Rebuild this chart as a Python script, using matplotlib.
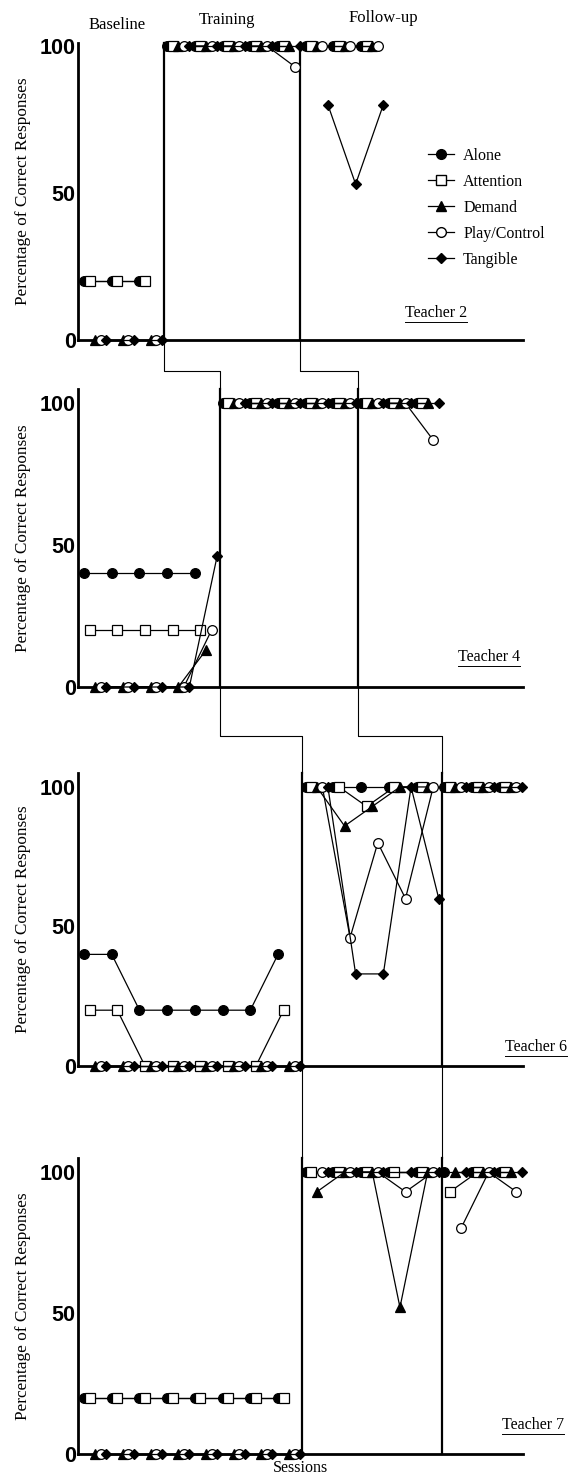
import matplotlib
matplotlib.use("Agg")
import matplotlib.pyplot as plt
from matplotlib.lines import Line2D
from matplotlib.transforms import blended_transform_factory

W, H = 574, 1477

conditions = ["Alone", "Attention", "Demand", "Play/Control", "Tangible"]
markers = ["o", "s", "^", "o", "D"]
face = ["black", "white", "black", "white", "black"]
msizes = [7, 6.5, 7, 7, 5.5]

teachers = ["Teacher 2", "Teacher 4", "Teacher 6", "Teacher 7"]
phase_names = ["Baseline", "Training", "Follow-up"]

# first session of each phase; one session per condition in each round
t2_starts = [1, 16, 41]
t4_starts = [1, 26, 51]
t6_starts = [1, 41, 66]
t7_starts = [1, 41, 66]

# phase change lines (sessions)
t2_lines = [15.4, 40.0]
t4_lines = [25.5, 50.4]
t6_lines = [40.3, 65.6]
t7_lines = [40.4, 65.6]

# rows: Alone, Attention, Demand, Play/Control, Tangible ; columns: rounds
t2_baseline = [[20, 20, 20], [20, 20, 20], [0, 0, 0], [0, 0, 0], [0, 0, 0]]
t2_training = [[100, 100, 100, 100, 100], [100, 100, 100, 100, 100],
               [100, 100, 100, 100, 100], [100, 100, 100, 100, 93],
               [100, 100, 100, 100, 100]]
t2_followup = [[100, 100, 100], [100, 100, 100], [100, 100, 100],
               [100, 100, 100], [80, 53, 80]]

t4_baseline = [[40, 40, 40, 40, 40], [20, 20, 20, 20, 20], [0, 0, 0, 0, 13],
               [0, 0, 0, 0, 20], [0, 0, 0, 0, 46]]
t4_training = [[100, 100, 100, 100, 100], [100, 100, 100, 100, 100],
               [100, 100, 100, 100, 100], [100, 100, 100, 100, 100],
               [100, 100, 100, 100, 100]]
t4_followup = [[100, 100, 100], [100, 100, 100], [100, 100, 100],
               [100, 100, 87], [100, 100, 100]]

t6_baseline = [[40, 40, 20, 20, 20, 20, 20, 40], [20, 20, 0, 0, 0, 0, 0, 20],
               [0, 0, 0, 0, 0, 0, 0, 0], [0, 0, 0, 0, 0, 0, 0, 0],
               [0, 0, 0, 0, 0, 0, 0, 0]]
t6_training = [[100, 100, 100, 100, 100], [100, 100, 93, 100, 100],
               [100, 86, 93, 100, 100], [100, 46, 80, 60, 100],
               [100, 33, 33, 100, 60]]
t6_followup = [[100, 100, 100], [100, 100, 100], [100, 100, 100],
               [100, 100, 100], [100, 100, 100]]

t7_baseline = [[20, 20, 20, 20, 20, 20, 20, 20], [20, 20, 20, 20, 20, 20, 20, 20],
               [0, 0, 0, 0, 0, 0, 0, 0], [0, 0, 0, 0, 0, 0, 0, 0],
               [0, 0, 0, 0, 0, 0, 0, 0]]
t7_training = [[100, 100, 100, 100, 100], [100, 100, 100, 100, 100],
               [93, 100, 100, 52, 100], [100, 100, 100, 93, 100],
               [100, 100, 100, 100, 100]]
t7_followup = [[100, 100, 100], [93, 100, 100], [100, 100, 100],
               [80, 100, 93], [100, 100, 100]]

panels = [
    (t2_starts, t2_lines, [t2_baseline, t2_training, t2_followup]),
    (t4_starts, t4_lines, [t4_baseline, t4_training, t4_followup]),
    (t6_starts, t6_lines, [t6_baseline, t6_training, t6_followup]),
    (t7_starts, t7_lines, [t7_baseline, t7_training, t7_followup]),
]

# layout in pixels (top, bottom) and y limit
panel_px = [(43, 340), (389, 687), (773, 1066), (1158, 1454)]
ytops = [101, 105, 105, 105]
left_px, right_px = 78.5, 523
xmax = 80.2
gap_px = [371, 736, 1110]
label_px = [(405, 313), (458, 657), (505, 1047), (502, 1425)]

serif = "Liberation Serif"
sans = "Liberation Sans"


def fx(px):
    return px / W


def fy(px):
    return 1 - px / H


fig = plt.figure(figsize=(W / 100, H / 100), dpi=100)
axes = []
for i, (starts, plines, phases) in enumerate(panels):
    top, bot = panel_px[i]
    ax = fig.add_axes([fx(left_px), fy(bot), fx(right_px - left_px), (bot - top) / H])
    axes.append(ax)
    ax.set_xlim(0, xmax)
    ax.set_ylim(0, ytops[i])
    for s in ["top", "right"]:
        ax.spines[s].set_visible(False)
    for s in ["left", "bottom"]:
        ax.spines[s].set_linewidth(2)
    ax.set_xticks([])
    ax.set_yticks([0, 50, 100])
    ax.set_yticklabels(["0", "50", "100"], fontfamily=sans, fontweight="bold", fontsize=15.5)
    ax.tick_params(axis="y", length=0, pad=2)
    ax.patch.set_visible(False)

    for ph, table in enumerate(phases):
        for c in range(5):
            vals = table[c]
            xs = [starts[ph] + 5 * r + c for r in range(len(vals))]
            ax.plot(xs, vals, color="black", lw=0.9, marker=markers[c],
                    mfc=face[c], mec="black", mew=0.9, ms=msizes[c],
                    clip_on=False, zorder=3 + c * 0.01)

    for p in plines:
        ax.plot([p, p], [0, ytops[i]], color="black", lw=1.6, clip_on=False, zorder=2)

    ax.set_ylabel("Percentage of Correct Responses", fontfamily=serif, fontsize=12.4)
    ax.yaxis.set_label_coords((31 - left_px) / (right_px - left_px), 0.5)

# staircase lines between panels
for i in range(3):
    trans = blended_transform_factory(axes[i].transData, fig.transFigure)
    for j in range(2):
        a = panels[i][1][j]
        b = panels[i + 1][1][j]
        ys = [fy(panel_px[i][1]), fy(gap_px[i]), fy(gap_px[i]), fy(panel_px[i + 1][0])]
        fig.add_artist(Line2D([a, a, b, b], ys, transform=trans, color="black", lw=0.8))

# phase titles
for name, (x, y) in zip(phase_names, [(117, 25), (227, 20), (383, 18)]):
    fig.text(fx(x), fy(y), name, ha="center", va="center", fontfamily=serif, fontsize=12)

# teacher labels, underlined
tlabels = []
for name, (x, y) in zip(teachers, label_px):
    tlabels.append(fig.text(fx(x), fy(y), name, ha="left", va="center",
                            fontfamily=serif, fontsize=11.5))

fig.text(fx(300), fy(1468), "Sessions", ha="center", va="center", fontfamily=serif, fontsize=11.5)

handles = [Line2D([], [], color="black", lw=0.9, marker=markers[c], mfc=face[c],
                  mec="black", ms=msizes[c]) for c in range(5)]
axes[0].legend(handles, conditions, loc="upper left", bbox_to_anchor=(fx(420), fy(140)),
               bbox_transform=fig.transFigure, frameon=False, handlelength=1.6,
               handletextpad=0.6, labelspacing=0.62, borderpad=0,
               prop={"family": serif, "size": 11.5})

fig.canvas.draw()
renderer = fig.canvas.get_renderer()
for t in tlabels:
    bb = t.get_window_extent(renderer)
    yline = bb.y0 - 1
    fig.add_artist(Line2D([bb.x0 / W, bb.x1 / W], [yline / H, yline / H],
                          transform=fig.transFigure, color="black", lw=0.7))

fig.savefig("out.png", dpi=100)
